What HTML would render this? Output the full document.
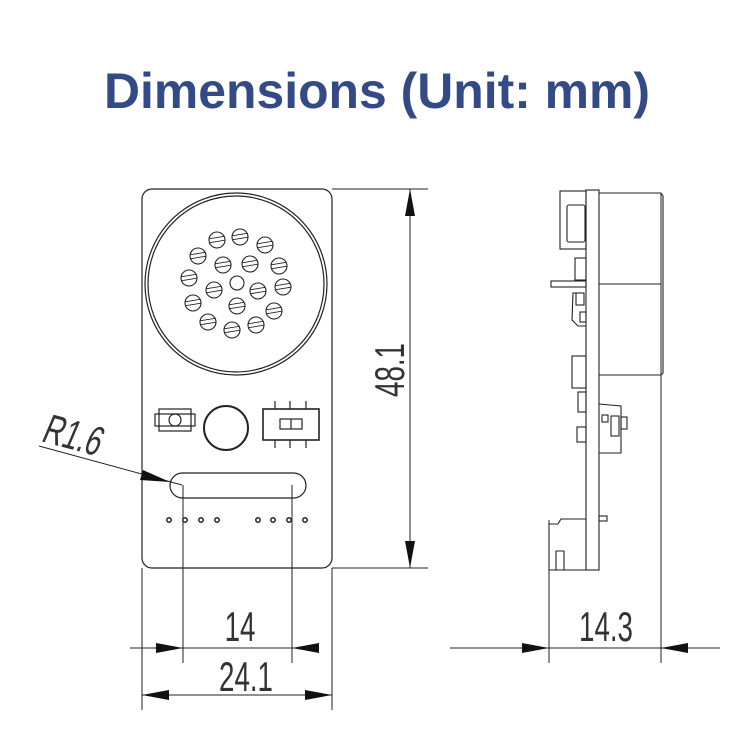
<!DOCTYPE html>
<html><head><meta charset="utf-8"><style>
html,body{margin:0;padding:0;background:#fff;}
svg{display:block;}
</style></head><body>
<svg width="750" height="746" viewBox="0 0 750 746" xmlns="http://www.w3.org/2000/svg">
<defs>
<clipPath id="h"><circle cx="0" cy="0" r="8"/></clipPath>
<g id="hole">
<circle cx="0" cy="0" r="8" fill="none" stroke="#222" stroke-width="1.1"/>
<g clip-path="url(#h)" stroke="#222" stroke-width="0.9">
<line x1="-9" y1="-1" x2="9" y2="-4"/><line x1="-9" y1="3" x2="9" y2="0"/>
</g>
</g>
</defs>
<text x="104" y="108" font-family="Liberation Sans, sans-serif" font-weight="bold" font-size="50" fill="#344a86" textLength="546" lengthAdjust="spacingAndGlyphs">Dimensions (Unit: mm)</text>

<g fill="none" stroke="#222" stroke-width="1.2">
<rect x="142" y="189" width="190" height="379" rx="10"/>
<circle cx="236" cy="284" r="91"/>
<circle cx="236" cy="284" r="88"/>
</g>
<use href="#hole" x="240" y="237"/><use href="#hole" x="217" y="240"/><use href="#hole" x="265" y="245"/>
<use href="#hole" x="198" y="256"/><use href="#hole" x="223" y="265"/><use href="#hole" x="250" y="264"/>
<use href="#hole" x="279" y="266"/><use href="#hole" x="189" y="278"/>
<circle cx="237" cy="283" r="7" fill="none" stroke="#222" stroke-width="1.1"/>
<use href="#hole" x="214" y="290"/><use href="#hole" x="258" y="291"/><use href="#hole" x="283" y="287"/>
<use href="#hole" x="193" y="303"/><use href="#hole" x="237" y="306"/><use href="#hole" x="274" y="311"/>
<use href="#hole" x="208" y="322"/><use href="#hole" x="232" y="330"/><use href="#hole" x="256" y="325"/>

<g fill="none" stroke="#222" stroke-width="1.2">
<rect x="159" y="409" width="32" height="22"/>
<rect x="155" y="414" width="40" height="12"/>
<circle cx="175" cy="420" r="6"/>
<circle cx="226" cy="428" r="22" stroke-width="2"/>
<rect x="263" y="409" width="56" height="31" stroke-width="1.6"/>
<rect x="280" y="419" width="22" height="10"/>
<line x1="291" y1="419" x2="291" y2="429"/>
<line x1="275" y1="401" x2="275" y2="409"/><line x1="290" y1="401" x2="290" y2="409"/><line x1="306" y1="401" x2="306" y2="409"/>
<line x1="275" y1="440" x2="275" y2="448"/><line x1="290" y1="440" x2="290" y2="448"/><line x1="306" y1="440" x2="306" y2="448"/>
<rect x="170" y="473" width="136" height="25" rx="12.5"/>
<g stroke-width="1.5">
<circle cx="169" cy="520" r="2.2"/><circle cx="185" cy="520" r="2.2"/><circle cx="201" cy="520" r="2.2"/><circle cx="217" cy="520" r="2.2"/>
<circle cx="258" cy="520" r="2.2"/><circle cx="273" cy="520" r="2.2"/><circle cx="289" cy="520" r="2.2"/><circle cx="305" cy="520" r="2.2"/>
</g>
</g>

<g fill="none" stroke="#222" stroke-width="1">
<line x1="332" y1="189" x2="428" y2="189"/>
<line x1="332" y1="568" x2="428" y2="568"/>
<line x1="410" y1="189" x2="410" y2="568"/>
<line x1="142" y1="568" x2="142" y2="710"/>
<line x1="332" y1="568" x2="332" y2="710"/>
<line x1="183" y1="485" x2="183" y2="663"/>
<line x1="292" y1="485" x2="292" y2="663"/>
<line x1="130" y1="648" x2="315" y2="648"/>
<line x1="142" y1="695" x2="332" y2="695"/>
<line x1="549" y1="520" x2="549" y2="663"/>
<line x1="661" y1="193" x2="661" y2="663"/>
<line x1="450" y1="648" x2="720" y2="648"/>
<line x1="39" y1="446" x2="182" y2="485"/>
</g>
<g fill="#111">
<polygon points="410,189 405,216 415,216"/>
<polygon points="410,568 405,541 415,541"/>
<polygon points="183,648 156,643 156,653"/>
<polygon points="292,648 319,643 319,653"/>
<polygon points="142,695 169,690 169,700"/>
<polygon points="332,695 305,690 305,700"/>
<polygon points="549,648 522,643 522,653"/>
<polygon points="661,648 688,643 688,653"/>
<polygon points="170,482 143,470 140,480"/>
</g>
<g font-family="Liberation Sans, sans-serif" font-size="42" fill="#333" font-weight="normal">
<text transform="translate(240,641) scale(0.66,1)" text-anchor="middle">14</text>
<text transform="translate(246,691) scale(0.66,1)" text-anchor="middle">24.1</text>
<text transform="translate(606,641) scale(0.66,1)" text-anchor="middle">14.3</text>
<text transform="translate(404,370) rotate(-90) scale(0.66,1)" text-anchor="middle">48.1</text>
<text transform="translate(40,441) rotate(15) scale(0.66,1) skewX(-12)">R1.6</text>
</g>

<g fill="none" stroke="#222" stroke-width="1.1">
<rect x="586" y="190" width="13" height="380"/>
<path d="M599,193 L661,193 L663,196 L663,373 L661,375 L599,375"/>
<line x1="599" y1="284" x2="661" y2="284"/>
<rect x="560" y="191" width="26" height="58"/>
<rect x="567" y="205" width="18" height="37" rx="2"/>
<rect x="575" y="258" width="11" height="22"/>
<rect x="551" y="281" width="35" height="6"/>
<path d="M583,293 L573,293 L572,320 L578,326 L586,326"/>
<rect x="576" y="293" width="8" height="12"/>
<rect x="580" y="312" width="6" height="10"/>
<rect x="572" y="356" width="14" height="32"/>
<rect x="578" y="392" width="8" height="20"/>
<rect x="577" y="427" width="9" height="15"/>
<path d="M599,404 L621,406 L621,453 L599,453"/>
<rect x="611" y="416" width="8" height="20"/>
<rect x="621" y="417" width="6" height="12"/>
<rect x="602" y="415" width="6" height="7"/>
<path d="M586,519 L561,519 L558,524 L549,524 L549,570 L586,570"/>
<path d="M556,570 L556,551 L564,551 L564,570"/>
<rect x="599" y="516" width="8" height="5"/>
</g>
</svg>
</body></html>
